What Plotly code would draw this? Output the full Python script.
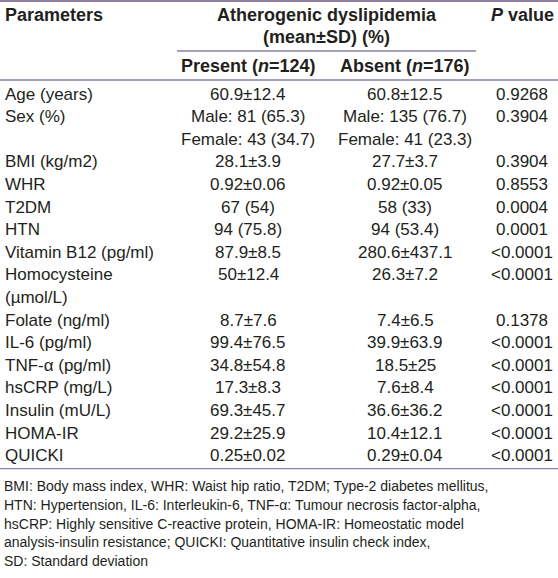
import plotly.graph_objects as go

W, H = 558, 578

# ---- data ----
param_lines = ["Age (years)", "Sex (%)", "", "BMI (kg/m2)", "WHR", "T2DM", "HTN",
               "Vitamin B12 (pg/ml)", "Homocysteine", "(µmol/L)", "Folate (ng/ml)",
               "IL-6 (pg/ml)", "TNF-α (pg/ml)", "hsCRP (mg/L)", "Insulin (mU/L)",
               "HOMA-IR", "QUICKI"]
present_lines = ["60.9±12.4", "Male: 81 (65.3)", "Female: 43 (34.7)", "28.1±3.9",
                 "0.92±0.06", "67 (54)", "94 (75.8)", "87.9±8.5", "50±12.4", "",
                 "8.7±7.6", "99.4±76.5", "34.8±54.8", "17.3±8.3", "69.3±45.7",
                 "29.2±25.9", "0.25±0.02"]
absent_lines = ["60.8±12.5", "Male: 135 (76.7)", "Female: 41 (23.3)", "27.7±3.7",
                "0.92±0.05", "58 (33)", "94 (53.4)", "280.6±437.1", "26.3±7.2", "",
                "7.4±6.5", "39.9±63.9", "18.5±25", "7.6±8.4", "36.6±36.2",
                "10.4±12.1", "0.29±0.04"]
pvalue_lines = ["0.9268", "0.3904", "", "0.3904", "0.8553", "0.0004", "0.0001",
                "<0.0001", "<0.0001", "", "0.1378", "<0.0001", "<0.0001", "<0.0001",
                "<0.0001", "<0.0001", "<0.0001"]
footnote_lines = [
    "BMI: Body mass index, WHR: Waist hip ratio, T2DM; Type-2 diabetes mellitus,",
    "HTN: Hypertension, IL-6: Interleukin-6, TNF-α: Tumour necrosis factor-alpha,",
    "hsCRP: Highly sensitive C-reactive protein, HOMA-IR: Homeostatic model",
    "analysis-insulin resistance; QUICKI: Quantitative insulin check index,",
    "SD: Standard deviation",
]

TXT = "#231f20"
LINE = "#8c7fa3"
FONT = "Liberation Sans"
BODY = 17
HEAD = 18
FOOT = 14

x_param, x_pres, x_abs, x_p = 3, 248, 405, 522
y0, dy = 94, 22.6
fy0, fdy = 486, 18.8

fig = go.Figure()
ann = []

def add(x, y, text, xanchor="center", size=BODY, bold=False, family=FONT):
    if text == "":
        return
    ann.append(dict(x=x, y=y, xref="x", yref="y", text=("<b>%s</b>" % text) if bold else text,
                    showarrow=False, xanchor=xanchor, yanchor="middle",
                    font=dict(family=family, size=size, color=TXT)))

# header
add(x_param, 15, "Parameters", "left", HEAD, True)
add(327, 15, "Atherogenic dyslipidemia", "center", HEAD, True)
add(326, 37, "(mean±SD) (%)", "center", HEAD, True)
add(x_pres, 66, "Present (<i>n</i>=124)", "center", HEAD, True)
add(x_abs, 66, "Absent (<i>n</i>=176)", "center", HEAD, True)
add(x_p, 15, "<i>P</i> value", "center", HEAD, True)

for i in range(len(param_lines)):
    y = y0 + i * dy
    add(x_param, y, param_lines[i], "left")
    add(x_pres, y, present_lines[i])
    add(x_abs, y, absent_lines[i])
    add(x_p, y, pvalue_lines[i])

y_bottom = y0 + (len(param_lines) - 1) * dy + 13
for j, t in enumerate(footnote_lines):
    add(x_param - 1, fy0 + j * fdy, t, "left", FOOT)

shapes = [
    dict(type="line", xref="x", yref="y", x0=0, x1=W, y0=1, y1=1, line=dict(color=LINE, width=2)),
    dict(type="line", xref="x", yref="y", x0=177, x1=476, y0=51, y1=51, line=dict(color=LINE, width=1.3)),
    dict(type="line", xref="x", yref="y", x0=0, x1=W, y0=80, y1=80, line=dict(color=LINE, width=1.3)),
    dict(type="line", xref="x", yref="y", x0=0, x1=W, y0=y_bottom, y1=y_bottom, line=dict(color=LINE, width=1.3)),
]

fig.update_layout(
    width=W, height=H, margin=dict(l=0, r=0, t=0, b=0),
    paper_bgcolor="white", plot_bgcolor="white",
    xaxis=dict(range=[0, W], visible=False, fixedrange=True),
    yaxis=dict(range=[H, 0], visible=False, fixedrange=True),
    annotations=ann, shapes=shapes, showlegend=False,
)
fig.write_html("out.html", config={"displayModeBar": False},
               post_script="document.body.style.margin='0';document.body.style.overflow='hidden';")
